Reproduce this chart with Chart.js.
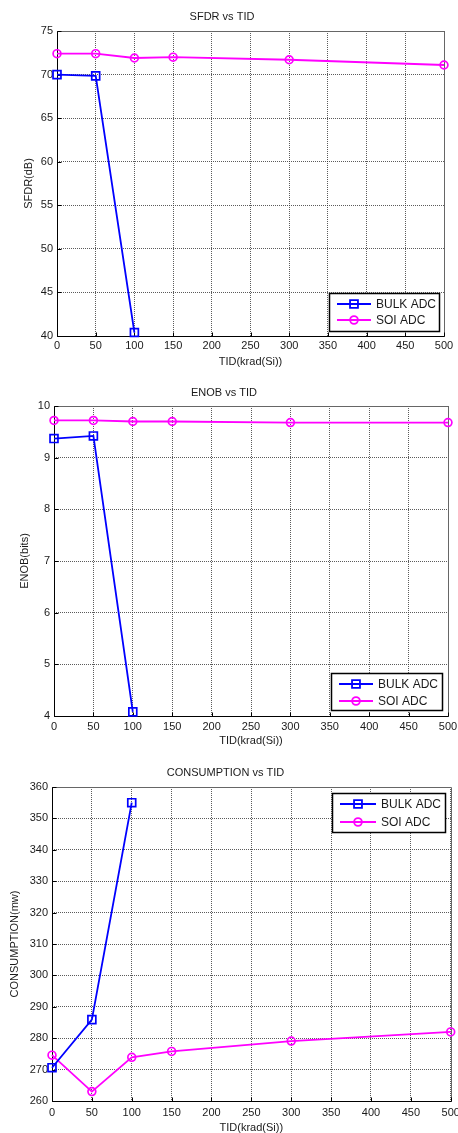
<!DOCTYPE html>
<html>
<head>
<meta charset="utf-8">
<script src="https://cdn.jsdelivr.net/npm/chart.js@4.4.1/dist/chart.umd.min.js"></script>
<style>
body { margin: 0; background: #fff; }
canvas { display: block; }
</style>
</head>
<body>
<canvas id="sfdrChart" width="458" height="375"></canvas>
<canvas id="enobChart" width="458" height="375"></canvas>
<canvas id="powChart" width="458" height="383"></canvas>
<script>
// data
const tidBulk = [0, 50, 100];
const tidSoi = [0, 50, 100, 150, 300, 500];
const xTickVals = [0, 50, 100, 150, 200, 250, 300, 350, 400, 450, 500];

const sfdrBulk = [70.0, 69.85, 40.4];
const sfdrSoi = [72.4, 72.4, 71.9, 72.0, 71.7, 71.1];
const sfdrTicks = [40, 45, 50, 55, 60, 65, 70, 75];

const enobBulk = [9.37, 9.42, 4.08];
const enobSoi = [9.72, 9.72, 9.70, 9.70, 9.68, 9.68];
const enobTicks = [4, 5, 6, 7, 8, 9, 10];

const powBulk = [270.6, 285.9, 355.0];
const powSoi = [274.6, 263.0, 273.9, 275.8, 279.1, 282.0];
const powTicks = [260, 270, 280, 290, 300, 310, 320, 330, 340, 350, 360];

const FONT = "'Liberation Sans', Arial, sans-serif";
const TXT = '#1a1a1a';

function pts(xs, ys) {
    return xs.map((x, i) => ({ x: x, y: ys[i] }));
}

// axes box, inward ticks + legend inside the plot
const boxPlugin = {
    id: 'boxLegend',
    beforeDatasetsDraw(chart) {
        const { ctx, chartArea: a, scales } = chart;
        const l = Math.round(a.left) + 0.5, r = Math.round(a.right) + 0.5;
        const t = Math.round(a.top) + 0.5, b = Math.round(a.bottom) + 0.5;
        ctx.save();
        ctx.lineWidth = 1;
        ctx.strokeStyle = '#666';
        ctx.beginPath();
        ctx.moveTo(l, t); ctx.lineTo(r, t); ctx.lineTo(r, b);
        ctx.stroke();
        ctx.strokeStyle = '#000';
        ctx.beginPath();
        ctx.moveTo(l, t); ctx.lineTo(l, b); ctx.lineTo(r, b);
        // inward tick marks
        scales.x.ticks.forEach(tk => {
            const x = Math.round(scales.x.getPixelForValue(tk.value)) + 0.5;
            ctx.moveTo(x, b); ctx.lineTo(x, b - 4);
        });
        scales.y.ticks.forEach(tk => {
            const y = Math.round(scales.y.getPixelForValue(tk.value)) + 0.5;
            ctx.moveTo(l, y); ctx.lineTo(l + 4, y);
        });
        ctx.stroke();
        ctx.restore();
    },
    afterDraw(chart, args, opts) {
        const { ctx, chartArea: a } = chart;
        const w = opts.w, h = opts.h;
        const left = Math.round(a.right - opts.gap - w);
        const top = opts.corner === 'tr' ? Math.round(a.top + opts.gap) : Math.round(a.bottom - opts.gap - h);
        ctx.save();
        ctx.fillStyle = '#fff';
        ctx.fillRect(left, top, w, h);
        ctx.strokeStyle = '#000';
        ctx.lineWidth = 1.5;
        ctx.strokeRect(left + 0.5, top + 0.5, w, h);
        chart.data.datasets.forEach((ds, i) => {
            const y = top + opts.rows[i];
            ctx.strokeStyle = ds.borderColor;
            ctx.lineWidth = ds.borderWidth;
            ctx.beginPath();
            ctx.moveTo(left + 8, y);
            ctx.lineTo(left + opts.lineLen + 8, y);
            ctx.stroke();
            ctx.fillStyle = 'rgba(0,0,0,0)';
            Chart.helpers.drawPoint(ctx, {
                pointStyle: ds.pointStyle, radius: ds.pointRadius, borderWidth: ds.pointBorderWidth, rotation: 0
            }, left + 8 + opts.lineLen / 2, y);
            ctx.fillStyle = TXT;
            ctx.font = '12px ' + FONT;
            ctx.textBaseline = 'middle';
            ctx.textAlign = 'left';
            ctx.fillText(ds.label, left + opts.lineLen + 13, y + 1);
        });
        ctx.restore();
    }
};

function makeChart(id, p) {
    return new Chart(document.getElementById(id), {
        type: 'line',
        data: {
            datasets: [{
                label: 'BULK ADC',
                data: pts(tidBulk, p.bulk),
                borderColor: '#0000ff',
                backgroundColor: 'transparent',
                borderWidth: 1.8,
                pointStyle: 'rect',
                pointRadius: 5.6,
                pointBorderWidth: 1.7,
                tension: 0,
                clip: false
            }, {
                label: 'SOI ADC',
                data: pts(tidSoi, p.soi),
                borderColor: '#ff00ff',
                backgroundColor: 'transparent',
                borderWidth: 1.8,
                pointStyle: 'circle',
                pointRadius: 3.9,
                pointBorderWidth: 1.7,
                tension: 0,
                clip: false
            }]
        },
        options: {
            responsive: false,
            animation: false,
            events: [],
            layout: { padding: { left: 0, right: p.padRight, top: 0, bottom: 0 } },
            plugins: {
                legend: { display: false },
                tooltip: { enabled: false },
                title: {
                    display: true,
                    text: p.title,
                    color: TXT,
                    font: { family: FONT, size: 11, weight: 'normal', lineHeight: 1.2 },
                    padding: { top: p.titleTop, bottom: p.titleBottom }
                },
                boxLegend: p.legend
            },
            scales: {
                x: {
                    type: 'linear',
                    min: 0,
                    max: 500,
                    afterBuildTicks: s => { s.ticks = xTickVals.map(v => ({ value: v })); },
                    afterFit: s => {
                        s.height = p.xHeight;
                        s.paddingLeft = 0; s.paddingRight = 0; s.paddingTop = 0; s.paddingBottom = 0;
                    },
                    border: { display: false, dash: [1, 1] },
                    grid: { color: 'rgba(50,50,50,0.8)', drawTicks: false, lineWidth: 1 },
                    ticks: { color: TXT, font: { family: FONT, size: 11 }, padding: p.xTickPad, maxRotation: 0, autoSkip: false },
                    title: {
                        display: true,
                        text: 'TID(krad(Si))',
                        color: TXT,
                        font: { family: FONT, size: 11, lineHeight: 1.2 },
                        padding: { top: 0, bottom: p.xTitlePad }
                    }
                },
                y: {
                    type: 'linear',
                    min: p.yTicks[0],
                    max: p.yTicks[p.yTicks.length - 1],
                    afterBuildTicks: s => { s.ticks = p.yTicks.map(v => ({ value: v })); },
                    afterFit: s => {
                        s.width = p.yWidth;
                        s.paddingLeft = 0; s.paddingRight = 0; s.paddingTop = 0; s.paddingBottom = 0;
                    },
                    border: { display: false, dash: [1, 1] },
                    grid: { color: 'rgba(50,50,50,0.8)', drawTicks: false, lineWidth: 1 },
                    ticks: { color: TXT, font: { family: FONT, size: 11 }, padding: 4, autoSkip: false },
                    title: {
                        display: true,
                        text: p.yLabel,
                        color: TXT,
                        font: { family: FONT, size: 11, lineHeight: 1.2 },
                        padding: { top: p.yTitlePad, bottom: 0 }
                    }
                }
            }
        },
        plugins: [boxPlugin]
    });
}

makeChart('sfdrChart', {
    title: 'SFDR vs TID', yLabel: 'SFDR(dB)',
    bulk: sfdrBulk, soi: sfdrSoi, yTicks: sfdrTicks,
    padRight: 14, yWidth: 57, xHeight: 39,
    titleTop: 10.4, titleBottom: 7.4, xTickPad: 3.4, xTitlePad: 6.4, yTitlePad: 22,
    legend: { corner: 'br', gap: 5, w: 110, h: 38, rows: [11, 27], lineLen: 34 }
});

makeChart('enobChart', {
    title: 'ENOB vs TID', yLabel: 'ENOB(bits)',
    bulk: enobBulk, soi: enobSoi, yTicks: enobTicks,
    padRight: 10, yWidth: 54, xHeight: 34,
    titleTop: 11.4, titleBottom: 6.4, xTickPad: 4.4, xTitlePad: 2.4, yTitlePad: 18.4,
    legend: { corner: 'br', gap: 6, w: 111, h: 37, rows: [11, 28], lineLen: 34 }
});

makeChart('powChart', {
    title: 'CONSUMPTION vs TID', yLabel: 'CONSUMPTION(mw)',
    bulk: powBulk, soi: powSoi, yTicks: powTicks,
    padRight: 7, yWidth: 52, xHeight: 32,
    titleTop: 16.4, titleBottom: 7.4, xTickPad: 5.4, xTitlePad: -1.6, yTitlePad: 8.4,
    legend: { corner: 'tr', gap: 6, w: 113, h: 39, rows: [11, 29], lineLen: 36 }
});
</script>
</body>
</html>
